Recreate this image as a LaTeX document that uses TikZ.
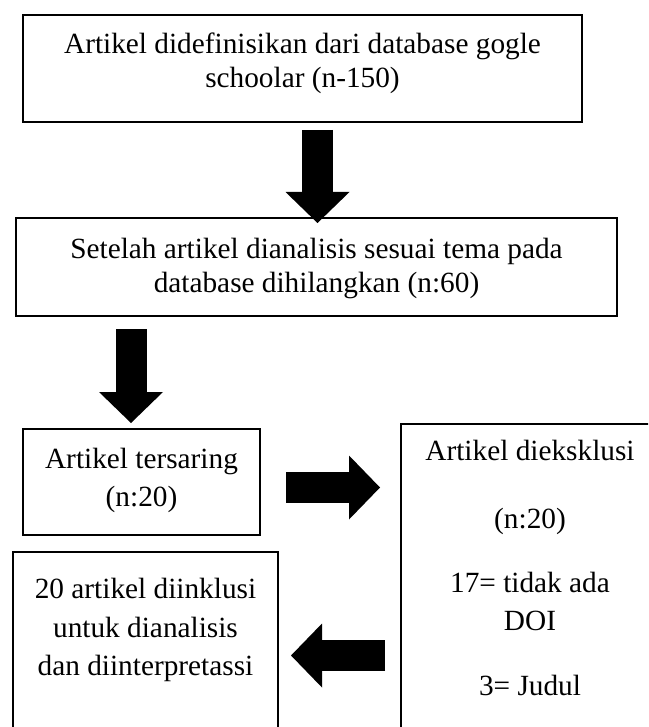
\documentclass[tikz,border=0pt]{standalone}
\usepackage{fontspec}
\setmainfont{Liberation Serif}
\usepackage{tikz}
\usetikzlibrary{arrows.meta}

\begin{document}
\begin{tikzpicture}[x=1pt,y=-1pt,
        kotak/.style={draw,line width=1.8pt,inner sep=0pt,align=center,anchor=north},
        rapat/.style={font=\fontsize{29.3pt}{34pt}\selectfont},
        renggang/.style={font=\fontsize{29.3pt}{38.5pt}\selectfont},
        panah/.style={line width=31pt,-{Triangle[width=64pt,length=31pt,line width=0pt]}}]
        \useasboundingbox (0,0) rectangle (648,727);
        \clip (0,0) rectangle (648,727);
        \node[kotak,rapat,minimum width=559pt,text height=73pt,text depth=34pt] (sumber) at (302.5,14)
            {Artikel didefinisikan dari database gogle\\schoolar (n-150)};
        \node[kotak,rapat,minimum width=601pt,text height=75pt,text depth=23pt] (analisis) at (316.5,217)
            {Setelah artikel dianalisis sesuai tema pada\\database dihilangkan (n:60)};
        \node[kotak,renggang,minimum width=237pt,text height=78pt,text depth=28pt] (saring) at (141.5,428)
            {Artikel tersaring\\(n:20)};
        \node[kotak,renggang,minimum width=265pt,text height=124pt,text depth=85pt] (inklusi) at (145.5,551)
            {20 artikel diinklusi\\untuk dianalisis\\dan diinterpretassi};
        \node[kotak,renggang,minimum width=258pt,text height=272pt,text depth=65pt] (eksklusi) at (530,423)
            {Artikel dieksklusi\\[29.5pt](n:20)\\[25.5pt]17= tidak ada\\DOI\\[26.5pt]3= Judul};
        \coordinate (p1a) at (317.5,130);
        \coordinate (p1b) at (317.5,223);
        \coordinate (p2a) at (131,329);
        \coordinate (p2b) at (131,423);
        \coordinate (p3a) at (286,487.5);
        \coordinate (p3b) at (380,487.5);
        \coordinate (p4a) at (385,655.5);
        \coordinate (p4b) at (291,655.5);
        \draw[panah] (p1a) -- (p1b);
        \draw[panah] (p2a) -- (p2b);
        \draw[panah] (p3a) -- (p3b);
        \draw[panah] (p4a) -- (p4b);
    \end{tikzpicture}
\end{document}
